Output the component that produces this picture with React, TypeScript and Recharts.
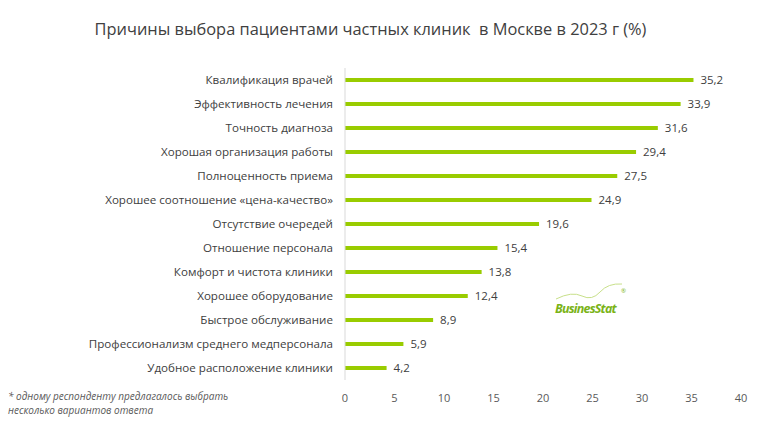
import React from "react";
import { BarChart, Bar, XAxis, YAxis, LabelList } from "recharts";

const categories = [
  "Квалификация врачей",
  "Эффективность  лечения",
  "Точность диагноза",
  "Хорошая организация работы",
  "Полноценность приема",
  "Хорошее соотношение «цена-качество»",
  "Отсутствие очередей",
  "Отношение  персонала",
  "Комфорт и чистота клиники",
  "Хорошее оборудование",
  "Быстрое обслуживание",
  "Профессионализм среднего медперсонала",
  "Удобное расположение клиники",
];
const values = [35.2, 33.9, 31.6, 29.4, 27.5, 24.9, 19.6, 15.4, 13.8, 12.4, 8.9, 5.9, 4.2];
const xTicks = [0, 5, 10, 15, 20, 25, 30, 35, 40];

const data = categories.map((name, i) => ({ name, value: values[i] }));

const FONT = "'Open Sans', 'DejaVu Sans', sans-serif";

export default function App() {
  return (
    <div style={{ position: "absolute", left: 0, top: 0, width: 766, height: 430, background: "#fff", fontFamily: FONT }}>
      <div style={{ position: "absolute", left: 0, top: 17, width: 741, textAlign: "center", fontSize: 16.4, color: "#404040", whiteSpace: "pre" }}>
        Причины выбора пациентами частных клиник  в Москве в 2023 г (%)
      </div>
      <BarChart
        width={766}
        height={430}
        data={data}
        layout="vertical"
        margin={{ top: 68, right: 25, bottom: 20, left: 0 }}
        barCategoryGap="58%"
      >
        <XAxis
          type="number"
          domain={[0, 40]}
          ticks={xTicks}
          axisLine={false}
          tickLine={false}
          tick={{ fontSize: 11, fill: "#595959", fontFamily: FONT }}
          tickMargin={8}
        />
        <YAxis
          type="category"
          dataKey="name"
          width={345}
          axisLine={{ stroke: "#d9d9d9" }}
          tickLine={false}
          tickSize={0}
          tickMargin={12}
          interval={0}
          tick={{ fontSize: 11.6, fill: "#404040", fontFamily: FONT, style: { whiteSpace: "pre" } }}
        />
        <Bar dataKey="value" fill="#99cc00" isAnimationActive={false}>
          <LabelList
            dataKey="value"
            position="right"
            offset={7}
            formatter={(v: number) => String(v).replace(".", ",")}
            style={{ fontSize: 11.5, fill: "#404040", fontFamily: FONT }}
          />
        </Bar>
      </BarChart>
      <div style={{ position: "absolute", left: 8, top: 389, fontSize: 10, fontStyle: "italic", color: "#595959", lineHeight: "14px" }}>
        * одному респонденту предлагалось выбрать
        <br />
        несколько вариантов ответа
      </div>
      <svg style={{ position: "absolute", left: 550, top: 281 }} width={80} height={36}>
        <path d="M6 18 Q 22 10 32 15 T 50 11 T 72 3" fill="none" stroke="#c8e08a" strokeWidth={1} />
        <text x={5} y={32} fontSize={12.5} fontWeight="bold" fontStyle="italic" fill="#7ab317" fontFamily={FONT} letterSpacing={-0.8}>
          BusinesStat
        </text>
        <text x={71} y={12} fontSize={6} fill="#7ab317" fontFamily={FONT}>®</text>
      </svg>
    </div>
  );
}
